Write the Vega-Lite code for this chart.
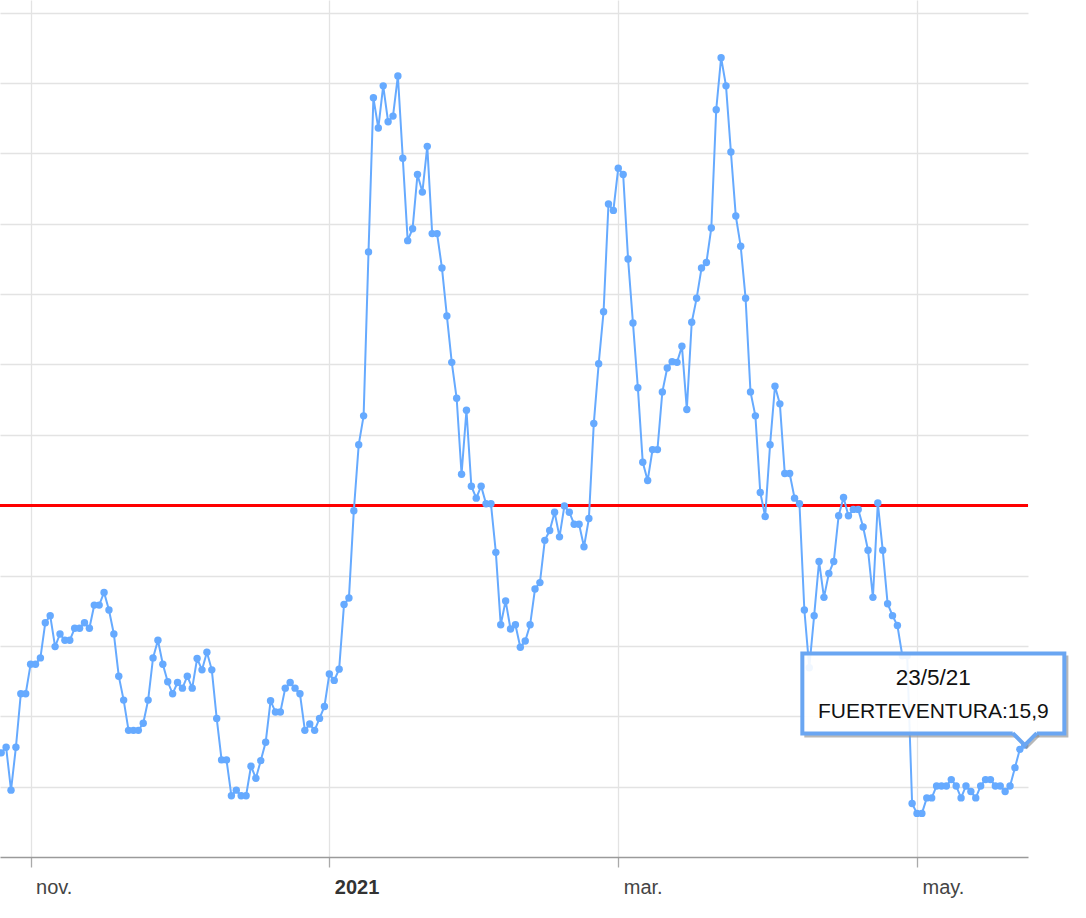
{
  "$schema": "https://vega.github.io/schema/vega-lite/v6.json",
  "width": 1028,
  "height": 857,
  "autosize": {"type": "none"},
  "padding": {"left": 0, "top": 0, "right": 58, "bottom": 61},
  "background": "white",
  "config": {"view": {"stroke": null}, "font": "Liberation Sans"},
  "data": {"values": [
    {"fecha":"2020-10-26","valor":14.8},{"fecha":"2020-10-27","valor":15.6},{"fecha":"2020-10-28","valor":9.5},{"fecha":"2020-10-29","valor":15.6},{"fecha":"2020-10-30","valor":23.2},{"fecha":"2020-10-31","valor":23.2},
    {"fecha":"2020-11-01","valor":27.4},{"fecha":"2020-11-02","valor":27.4},{"fecha":"2020-11-03","valor":28.3},{"fecha":"2020-11-04","valor":33.3},{"fecha":"2020-11-05","valor":34.3},{"fecha":"2020-11-06","valor":29.9},{"fecha":"2020-11-07","valor":31.7},{"fecha":"2020-11-08","valor":30.8},{"fecha":"2020-11-09","valor":30.8},{"fecha":"2020-11-10","valor":32.5},{"fecha":"2020-11-11","valor":32.5},{"fecha":"2020-11-12","valor":33.3},{"fecha":"2020-11-13","valor":32.5},{"fecha":"2020-11-14","valor":35.8},{"fecha":"2020-11-15","valor":35.8},{"fecha":"2020-11-16","valor":37.6},{"fecha":"2020-11-17","valor":35.1},{"fecha":"2020-11-18","valor":31.7},{"fecha":"2020-11-19","valor":25.7},{"fecha":"2020-11-20","valor":22.3},{"fecha":"2020-11-21","valor":18.0},{"fecha":"2020-11-22","valor":18.0},{"fecha":"2020-11-23","valor":18.0},{"fecha":"2020-11-24","valor":19.0},{"fecha":"2020-11-25","valor":22.3},{"fecha":"2020-11-26","valor":28.3},{"fecha":"2020-11-27","valor":30.8},{"fecha":"2020-11-28","valor":27.4},{"fecha":"2020-11-29","valor":24.9},{"fecha":"2020-11-30","valor":23.2},
    {"fecha":"2020-12-01","valor":24.8},{"fecha":"2020-12-02","valor":24.0},{"fecha":"2020-12-03","valor":25.7},{"fecha":"2020-12-04","valor":24.0},{"fecha":"2020-12-05","valor":28.2},{"fecha":"2020-12-06","valor":26.6},{"fecha":"2020-12-07","valor":29.1},{"fecha":"2020-12-08","valor":26.6},{"fecha":"2020-12-09","valor":19.7},{"fecha":"2020-12-10","valor":13.8},{"fecha":"2020-12-11","valor":13.8},{"fecha":"2020-12-12","valor":8.7},{"fecha":"2020-12-13","valor":9.5},{"fecha":"2020-12-14","valor":8.7},{"fecha":"2020-12-15","valor":8.7},{"fecha":"2020-12-16","valor":12.9},{"fecha":"2020-12-17","valor":11.2},{"fecha":"2020-12-18","valor":13.7},{"fecha":"2020-12-19","valor":16.3},{"fecha":"2020-12-20","valor":22.2},{"fecha":"2020-12-21","valor":20.6},{"fecha":"2020-12-22","valor":20.6},{"fecha":"2020-12-23","valor":24.0},{"fecha":"2020-12-24","valor":24.8},{"fecha":"2020-12-25","valor":24.0},{"fecha":"2020-12-26","valor":23.2},{"fecha":"2020-12-27","valor":18.0},{"fecha":"2020-12-28","valor":18.9},{"fecha":"2020-12-29","valor":18.0},{"fecha":"2020-12-30","valor":19.7},{"fecha":"2020-12-31","valor":21.4},
    {"fecha":"2021-01-01","valor":26.0},{"fecha":"2021-01-02","valor":25.1},{"fecha":"2021-01-03","valor":26.7},{"fecha":"2021-01-04","valor":35.9},{"fecha":"2021-01-05","valor":36.8},{"fecha":"2021-01-06","valor":49.2},{"fecha":"2021-01-07","valor":58.6},{"fecha":"2021-01-08","valor":62.7},{"fecha":"2021-01-09","valor":86.0},{"fecha":"2021-01-10","valor":107.9},{"fecha":"2021-01-11","valor":103.6},{"fecha":"2021-01-12","valor":109.6},{"fecha":"2021-01-13","valor":104.5},{"fecha":"2021-01-14","valor":105.3},{"fecha":"2021-01-15","valor":111.0},{"fecha":"2021-01-16","valor":99.3},{"fecha":"2021-01-17","valor":87.6},{"fecha":"2021-01-18","valor":89.3},{"fecha":"2021-01-19","valor":97.0},{"fecha":"2021-01-20","valor":94.5},{"fecha":"2021-01-21","valor":101.0},{"fecha":"2021-01-22","valor":88.6},{"fecha":"2021-01-23","valor":88.6},{"fecha":"2021-01-24","valor":83.7},{"fecha":"2021-01-25","valor":76.9},{"fecha":"2021-01-26","valor":70.3},{"fecha":"2021-01-27","valor":65.2},{"fecha":"2021-01-28","valor":54.4},{"fecha":"2021-01-29","valor":63.5},{"fecha":"2021-01-30","valor":52.7},{"fecha":"2021-01-31","valor":51.0},
    {"fecha":"2021-02-01","valor":52.7},{"fecha":"2021-02-02","valor":50.2},{"fecha":"2021-02-03","valor":50.2},{"fecha":"2021-02-04","valor":43.3},{"fecha":"2021-02-05","valor":33.0},{"fecha":"2021-02-06","valor":36.4},{"fecha":"2021-02-07","valor":32.4},{"fecha":"2021-02-08","valor":33.0},{"fecha":"2021-02-09","valor":29.8},{"fecha":"2021-02-10","valor":30.7},{"fecha":"2021-02-11","valor":33.0},{"fecha":"2021-02-12","valor":38.1},{"fecha":"2021-02-13","valor":39.0},{"fecha":"2021-02-14","valor":45.0},{"fecha":"2021-02-15","valor":46.4},{"fecha":"2021-02-16","valor":49.0},{"fecha":"2021-02-17","valor":45.5},{"fecha":"2021-02-18","valor":49.9},{"fecha":"2021-02-19","valor":49.0},{"fecha":"2021-02-20","valor":47.3},{"fecha":"2021-02-21","valor":47.3},{"fecha":"2021-02-22","valor":44.1},{"fecha":"2021-02-23","valor":48.1},{"fecha":"2021-02-24","valor":61.6},{"fecha":"2021-02-25","valor":70.1},{"fecha":"2021-02-26","valor":77.5},{"fecha":"2021-02-27","valor":92.8},{"fecha":"2021-02-28","valor":91.9},
    {"fecha":"2021-03-01","valor":97.9},{"fecha":"2021-03-02","valor":97.0},{"fecha":"2021-03-03","valor":85.0},{"fecha":"2021-03-04","valor":75.9},{"fecha":"2021-03-05","valor":66.7},{"fecha":"2021-03-06","valor":56.1},{"fecha":"2021-03-07","valor":53.5},{"fecha":"2021-03-08","valor":57.9},{"fecha":"2021-03-09","valor":57.9},{"fecha":"2021-03-10","valor":66.1},{"fecha":"2021-03-11","valor":69.5},{"fecha":"2021-03-12","valor":70.4},{"fecha":"2021-03-13","valor":70.3},{"fecha":"2021-03-14","valor":72.6},{"fecha":"2021-03-15","valor":63.6},{"fecha":"2021-03-16","valor":76.0},{"fecha":"2021-03-17","valor":79.4},{"fecha":"2021-03-18","valor":83.7},{"fecha":"2021-03-19","valor":84.5},{"fecha":"2021-03-20","valor":89.4},{"fecha":"2021-03-21","valor":106.2},{"fecha":"2021-03-22","valor":113.6},{"fecha":"2021-03-23","valor":109.6},{"fecha":"2021-03-24","valor":100.2},{"fecha":"2021-03-25","valor":91.1},{"fecha":"2021-03-26","valor":86.8},{"fecha":"2021-03-27","valor":79.4},{"fecha":"2021-03-28","valor":66.1},{"fecha":"2021-03-29","valor":62.7},{"fecha":"2021-03-30","valor":51.8},{"fecha":"2021-03-31","valor":48.4},
    {"fecha":"2021-04-01","valor":58.6},{"fecha":"2021-04-02","valor":66.9},{"fecha":"2021-04-03","valor":64.4},{"fecha":"2021-04-04","valor":54.5},{"fecha":"2021-04-05","valor":54.5},{"fecha":"2021-04-06","valor":51.0},{"fecha":"2021-04-07","valor":50.2},{"fecha":"2021-04-08","valor":35.1},{"fecha":"2021-04-09","valor":26.9},{"fecha":"2021-04-10","valor":34.3},{"fecha":"2021-04-11","valor":42.0},{"fecha":"2021-04-12","valor":36.9},{"fecha":"2021-04-13","valor":40.3},{"fecha":"2021-04-14","valor":42.0},{"fecha":"2021-04-15","valor":48.5},{"fecha":"2021-04-16","valor":51.1},{"fecha":"2021-04-17","valor":48.5},{"fecha":"2021-04-18","valor":49.4},{"fecha":"2021-04-19","valor":49.4},{"fecha":"2021-04-20","valor":46.9},{"fecha":"2021-04-21","valor":43.6},{"fecha":"2021-04-22","valor":36.9},{"fecha":"2021-04-23","valor":50.3},{"fecha":"2021-04-24","valor":43.6},{"fecha":"2021-04-25","valor":36.0},{"fecha":"2021-04-26","valor":34.3},{"fecha":"2021-04-27","valor":32.9},{"fecha":"2021-04-28","valor":28.6},{"fecha":"2021-04-29","valor":28.6},{"fecha":"2021-04-30","valor":7.6},
    {"fecha":"2021-05-01","valor":6.2},{"fecha":"2021-05-02","valor":6.2},{"fecha":"2021-05-03","valor":8.4},{"fecha":"2021-05-04","valor":8.4},{"fecha":"2021-05-05","valor":10.1},{"fecha":"2021-05-06","valor":10.1},{"fecha":"2021-05-07","valor":10.1},{"fecha":"2021-05-08","valor":11.0},{"fecha":"2021-05-09","valor":10.1},{"fecha":"2021-05-10","valor":8.4},{"fecha":"2021-05-11","valor":10.1},{"fecha":"2021-05-12","valor":9.3},{"fecha":"2021-05-13","valor":8.4},{"fecha":"2021-05-14","valor":10.1},{"fecha":"2021-05-15","valor":11.0},{"fecha":"2021-05-16","valor":11.0},{"fecha":"2021-05-17","valor":10.1},{"fecha":"2021-05-18","valor":10.1},{"fecha":"2021-05-19","valor":9.3},{"fecha":"2021-05-20","valor":10.1},{"fecha":"2021-05-21","valor":12.7},{"fecha":"2021-05-22","valor":15.3},{"fecha":"2021-05-23","valor":15.9}
  ]},
  "layer": [
    {
      "mark": {"type": "rule", "color": "#ff0000", "strokeWidth": 2},
      "encoding": {
        "y": {"datum": 50, "type": "quantitative", "scale": {"domain": [0, 121.8], "nice": false, "zero": true},
          "axis": {"values": [10,20,30,40,50,60,70,80,90,100,110,120], "labels": false, "ticks": false, "domain": false, "title": null, "grid": true, "gridColor": "#e3e3e3", "gridWidth": 1.3}}
      }
    },
    {
      "mark": {"type": "line", "color": "#66aaff", "strokeWidth": 2},
      "encoding": {
        "x": {"field": "fecha", "type": "temporal",
          "scale": {"type": "utc", "domain": [{"year": 2020, "month": 10, "date": 25, "hours": 18, "minutes": 0, "utc": true}, {"year": 2021, "month": 5, "date": 23, "hours": 16, "minutes": 0, "utc": true}]},
          "axis": {
            "title": null,
            "values": [{"year": 2020, "month": 11, "date": 1, "utc": true}, {"year": 2021, "month": 1, "date": 1, "utc": true}, {"year": 2021, "month": 3, "date": 1, "utc": true}, {"year": 2021, "month": 5, "date": 1, "utc": true}],
            "labelExpr": "utcmonth(datum.value) == 0 ? '' + utcyear(datum.value) : ['ene.','feb.','mar.','abr.','may.','jun.','jul.','ago.','sep.','oct.','nov.','dic.'][utcmonth(datum.value)]",
            "labelFontWeight": {"condition": {"test": "utcmonth(datum.value) == 0", "value": "bold"}, "value": "normal"},
            "labelColor": {"condition": {"test": "utcmonth(datum.value) == 0", "value": "#333333"}, "value": "#444444"},
            "labelFont": "Liberation Sans",
            "labelFontSize": 20,
            "labelAlign": "left",
            "labelBaseline": "alphabetic",
            "labelPadding": 26.6,
            "labelOffset": 5,
            "labelOverlap": false,
            "labelFlush": false,
            "tickSize": 10,
            "tickColor": "#aaaaaa",
            "tickWidth": 1.3,
            "domainColor": "#9a9a9a",
            "domainWidth": 1.6,
            "grid": true,
            "gridColor": "#e3e3e3",
            "gridWidth": 1.3
          }
        },
        "y": {"field": "valor", "type": "quantitative", "scale": {"domain": [0, 121.8], "nice": false, "zero": true},
          "axis": {"values": [10,20,30,40,50,60,70,80,90,100,110,120], "labels": false, "ticks": false, "domain": false, "title": null, "grid": true, "gridColor": "#e3e3e3", "gridWidth": 1.3}}
      }
    },
    {
      "mark": {"type": "point", "filled": true, "size": 55, "color": "#66aaff", "opacity": 1},
      "encoding": {
        "x": {"field": "fecha", "type": "temporal"},
        "y": {"field": "valor", "type": "quantitative"}
      }
    },
    {
      "transform": [{"filter": "utcyear(datum.fecha) == 2021 && utcmonth(datum.fecha) == 4 && utcdate(datum.fecha) == 23"}],
      "encoding": {
        "x": {"field": "fecha", "type": "temporal"},
        "y": {"field": "valor", "type": "quantitative"}
      },
      "layer": [
        {"mark": {"type": "point", "shape": "M1.008,-0.29L1.031,-0.29L1.031,0.336L-0.985,0.336L-0.985,0.313L1.008,0.313Z", "size": 68644, "filled": true, "fill": "#9a9a9a", "stroke": null, "opacity": 0.7, "xOffset": -91.4, "yOffset": -51.6}},
        {"mark": {"type": "point", "shape": "M-1,-0.3053L1,-0.3053L1,0.3053L-1,0.3053Z", "size": 68644, "filled": true, "fill": "#ffffff", "fillOpacity": 0.9, "stroke": "#6aa6f2", "strokeWidth": 4, "strokeOpacity": 1, "opacity": 1, "xOffset": -91.4, "yOffset": -51.6}},
        {"mark": {"type": "point", "shape": "M-1,-0.5L0,0.5L1,-0.5", "size": 576, "filled": false, "stroke": "#8a8a8a", "strokeWidth": 3, "opacity": 0.6, "xOffset": 2, "yOffset": -4}},
        {"mark": {"type": "point", "shape": "M-1,-0.72L1,-0.72L1,-0.5L0,0.5L-1,-0.5Z", "size": 576, "filled": true, "fill": "#ffffff", "stroke": null, "opacity": 1, "yOffset": -6}},
        {"mark": {"type": "point", "shape": "M-1,-0.5L0,0.5L1,-0.5", "size": 576, "filled": false, "stroke": "#6aa6f2", "strokeWidth": 4, "opacity": 1, "yOffset": -6}},
        {
          "transform": [{"calculate": "utcdate(datum.fecha) + '/' + (utcmonth(datum.fecha) + 1) + '/' + (utcyear(datum.fecha) % 100)", "as": "etiqueta"}],
          "mark": {"type": "text", "align": "center", "baseline": "alphabetic", "dx": -91.4, "dy": -59.9, "fontSize": 22.5, "font": "Liberation Sans", "color": "#111111"},
          "encoding": {"text": {"field": "etiqueta", "type": "nominal"}}
        },
        {
          "transform": [{"calculate": "'FUERTEVENTURA:' + replace(format(datum.valor, '.1f'), '.', ',')", "as": "etiqueta"}],
          "mark": {"type": "text", "align": "center", "baseline": "alphabetic", "dx": -91.4, "dy": -27.6, "fontSize": 21, "font": "Liberation Sans", "color": "#111111"},
          "encoding": {"text": {"field": "etiqueta", "type": "nominal"}}
        }
      ]
    }
  ]
}
